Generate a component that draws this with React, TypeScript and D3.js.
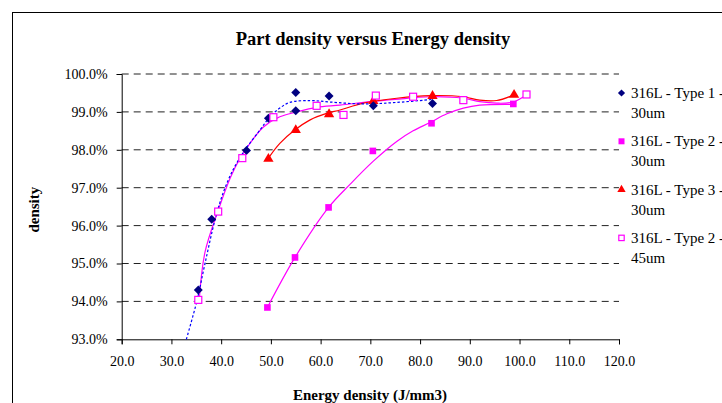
import React, { useEffect, useRef } from "react";
import * as d3 from "d3";

// values
const xTicks = [20, 30, 40, 50, 60, 70, 80, 90, 100, 110, 120];
const yTicks = [93, 94, 95, 96, 97, 98, 99, 100];

const type1X = [35.4, 38.1, 45.1, 49.5, 55.0, 55.0, 61.7, 70.6, 82.5];
const type1Y = [94.3, 96.17, 97.98, 98.83, 99.51, 99.03, 99.42, 99.16, 99.22];

const type2X = [49.3, 54.85, 61.6, 70.5, 82.3, 98.75];
const type2Y = [93.84, 95.16, 96.48, 97.97, 98.7, 99.21];

const type3X = [49.5, 55.0, 61.7, 70.6, 82.5, 98.9];
const type3Y = [97.76, 98.52, 98.94, 99.29, 99.42, 99.45];

const type2b45X = [35.4, 39.4, 44.25, 50.5, 59.2, 64.6, 71.1, 78.6, 88.7, 101.4];
const type2b45Y = [94.04, 96.37, 97.78, 98.86, 99.16, 98.92, 99.43, 99.4, 99.31, 99.46];

// trendlines
const type1Trend: [number, number][] = [
  [33.0, 93.0], [35.1, 94.0], [36.75, 95.0], [38.8, 96.17], [40.5, 96.9], [42.5, 97.5],
  [44.8, 98.0], [47.8, 98.52], [49.8, 98.87], [51.8, 99.1], [53.8, 99.25], [57.9, 99.3],
  [61.9, 99.26], [68.5, 99.21], [75.3, 99.25], [82.5, 99.33],
];
const type2Trend: [number, number][] = [
  [49.3, 93.84], [54.85, 95.16], [61.6, 96.48], [66.0, 97.1], [70.6, 97.7], [75.3, 98.22],
  [78.6, 98.5], [82.0, 98.72], [85.4, 98.95], [88.7, 99.1], [92.0, 99.18], [98.75, 99.2],
];
const type3Trend: [number, number][] = [
  [49.5, 97.78], [51.8, 98.17], [54.8, 98.52], [57.9, 98.79], [61.2, 98.96], [63.9, 99.05],
  [68.6, 99.23], [75.3, 99.36], [82.0, 99.43], [88.7, 99.4], [92.0, 99.31], [95.4, 99.3],
  [98.9, 99.45],
];
const type2b45Trend: [number, number][] = [
  [35.6, 94.05], [36.75, 95.3], [39.4, 96.4], [41.8, 97.25], [43.8, 97.78], [45.8, 98.17],
  [48.5, 98.6], [51.8, 98.87], [55.2, 99.0], [59.2, 99.12], [63.9, 99.18], [70.0, 99.27],
  [75.0, 99.33], [82.0, 99.4], [88.7, 99.36], [92.0, 99.27], [95.4, 99.23], [98.75, 99.26],
  [101.4, 99.45],
];

const legendLabels = [
  ["316L - Type 1 -", "30um"],
  ["316L - Type 2 -", "30um"],
  ["316L - Type 3 -", "30um"],
  ["316L - Type 2 -", "45um"],
];

const NAVY = "#000080";
const MAGENTA = "#FF00FF";
const RED = "#FF0000";
const BLUE = "#0000FF";
const FONT = "'Liberation Serif', 'Times New Roman', serif";

export default function App() {
  const ref = useRef<SVGSVGElement>(null);

  useEffect(() => {
    const svg = d3.select(ref.current);
    svg.selectAll("*").remove();

    const left = 121.7, right = 619, top = 74, bottom = 339.3;
    const x = d3.scaleLinear().domain([20, 120]).range([left, right]);
    const y = d3.scaleLinear().domain([93, 100]).range([bottom, top]);

    // chart area border
    svg.append("rect")
      .attr("x", 12.5).attr("y", 12.5)
      .attr("width", 900).attr("height", 600)
      .attr("fill", "white").attr("stroke", "black").attr("stroke-width", 1);

    // title
    svg.append("text")
      .attr("x", 373).attr("y", 45)
      .attr("text-anchor", "middle")
      .style("font-family", FONT).style("font-size", "18.5px").style("font-weight", "bold")
      .text("Part density versus Energy density");

    // grid lines
    svg.append("g")
      .selectAll("line")
      .data(yTicks.filter((d) => d > 93))
      .enter()
      .append("line")
      .attr("x1", left).attr("x2", right)
      .attr("y1", (d) => y(d)).attr("y2", (d) => y(d))
      .attr("stroke", "#222").attr("stroke-dasharray", "7,5");

    // y axis
    const yAxis = svg.append("g")
      .attr("transform", `translate(${left},0)`)
      .call(d3.axisLeft(y).tickValues(yTicks).tickSize(5).tickPadding(9).tickFormat((d) => `${(+d).toFixed(1)}%`));
    yAxis.select(".domain").attr("stroke", "black");
    yAxis.selectAll("text").style("font-family", FONT).style("font-size", "14px").attr("fill", "black");

    // x axis
    const xAxis = svg.append("g")
      .attr("transform", `translate(0,${bottom})`)
      .call(d3.axisBottom(x).tickValues(xTicks).tickSize(5).tickPadding(12).tickFormat((d) => (+d).toFixed(1)));
    xAxis.select(".domain").attr("stroke", "black");
    xAxis.selectAll("text").style("font-family", FONT).style("font-size", "14px").attr("fill", "black");

    // axis titles
    svg.append("text")
      .attr("x", 370).attr("y", 400)
      .attr("text-anchor", "middle")
      .style("font-family", FONT).style("font-size", "15px").style("font-weight", "bold")
      .text("Energy density (J/mm3)");

    svg.append("text")
      .attr("transform", `translate(39,${(top + bottom) / 2 + 3}) rotate(-90)`)
      .attr("text-anchor", "middle")
      .style("font-family", FONT).style("font-size", "15px").style("font-weight", "bold")
      .text("density");

    // trendlines
    const line = d3.line<[number, number]>()
      .x((d) => x(d[0]))
      .y((d) => y(d[1]))
      .curve(d3.curveCatmullRom.alpha(0.5));

    const trends = [
      { pts: type2Trend, color: MAGENTA, dash: null },
      { pts: type2b45Trend, color: MAGENTA, dash: null },
      { pts: type3Trend, color: RED, dash: null },
      { pts: type1Trend, color: BLUE, dash: "2.5,2" },
    ];
    trends.forEach((t) => {
      svg.append("path")
        .datum(t.pts)
        .attr("d", line)
        .attr("fill", "none")
        .attr("stroke", t.color)
        .attr("stroke-width", 1.2)
        .attr("stroke-dasharray", t.dash);
    });

    // markers
    const square = d3.symbol().type(d3.symbolSquare).size(44);
    const diamond = d3.symbol().type(d3.symbolSquare).size(40);
    const triangle = d3.symbol().type(d3.symbolTriangle).size(46);

    svg.append("g").selectAll("path")
      .data(type2X.map((v, i) => [v, type2Y[i]]))
      .enter().append("path")
      .attr("transform", (d) => `translate(${x(d[0])},${y(d[1])})`)
      .attr("d", square).attr("fill", MAGENTA);

    svg.append("g").selectAll("path")
      .data(type3X.map((v, i) => [v, type3Y[i]]))
      .enter().append("path")
      .attr("transform", (d) => `translate(${x(d[0])},${y(d[1])})`)
      .attr("d", triangle).attr("fill", RED);

    svg.append("g").selectAll("path")
      .data(type1X.map((v, i) => [v, type1Y[i]]))
      .enter().append("path")
      .attr("transform", (d) => `translate(${x(d[0])},${y(d[1])}) rotate(45)`)
      .attr("d", diamond).attr("fill", NAVY);

    svg.append("g").selectAll("rect")
      .data(type2b45X.map((v, i) => [v, type2b45Y[i]]))
      .enter().append("rect")
      .attr("x", (d) => x(d[0]) - 3.5).attr("y", (d) => y(d[1]) - 3.5)
      .attr("width", 7).attr("height", 7)
      .attr("fill", "white").attr("stroke", MAGENTA).attr("stroke-width", 1.2);

    // legend
    const legend = svg.append("g").attr("transform", "translate(621.5,93)");
    legendLabels.forEach((lab, i) => {
      const g = legend.append("g").attr("transform", `translate(0,${i * 48.3})`);
      if (i === 0) g.append("path").attr("d", d3.symbol().type(d3.symbolSquare).size(26)).attr("transform", "rotate(45)").attr("fill", NAVY);
      if (i === 1) g.append("rect").attr("x", -3).attr("y", -3).attr("width", 6).attr("height", 6).attr("fill", MAGENTA);
      if (i === 2) g.append("path").attr("d", d3.symbol().type(d3.symbolTriangle).size(30)).attr("fill", RED);
      if (i === 3) g.append("rect").attr("x", -2.7).attr("y", -2.7).attr("width", 5.4).attr("height", 5.4)
        .attr("fill", "white").attr("stroke", MAGENTA).attr("stroke-width", 1.2);
      const t = g.append("text")
        .style("font-family", FONT).style("font-size", "15px").attr("fill", "black");
      t.append("tspan").attr("x", 9.5).attr("y", 5).text(lab[0]);
      t.append("tspan").attr("x", 9.5).attr("y", 25).text(lab[1]);
    });
  }, []);

  return (
    <svg
      ref={ref}
      width={722}
      height={403}
      style={{ position: "absolute", left: 0, top: 0, background: "white" }}
    />
  );
}
